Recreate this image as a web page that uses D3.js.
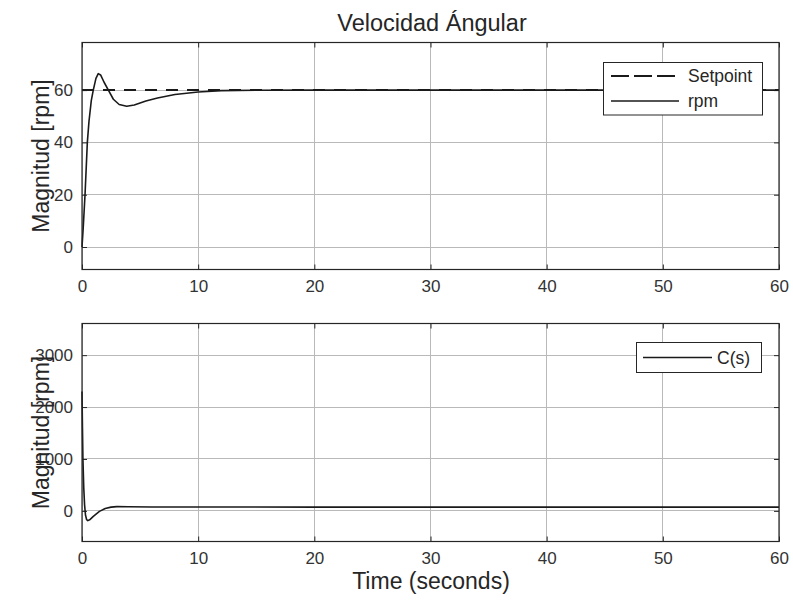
<!DOCTYPE html>
<html>
<head>
<meta charset="utf-8">
<script src="https://cdn.jsdelivr.net/npm/d3@7"></script>
<style>
  html, body { margin: 0; padding: 0; background: #fff; }
  svg { display: block; font-family: "Liberation Sans", Arial, sans-serif; }
</style>
</head>
<body>
<svg id="chart" width="793" height="601"></svg>
<script>
// Speed response (rpm) over time, seconds
const rpmTime  = [0, 0.1, 0.26, 0.46, 0.6, 0.8, 0.97, 1.2, 1.4, 1.6, 1.9, 2.27, 2.7, 3.2, 3.85, 4.5, 5.5, 6.5, 8, 10, 12, 15, 20, 30, 40, 50, 60];
const rpmValue = [0, 7, 20, 40, 48, 56, 60, 64.5, 66.3, 65.8, 63, 60, 56.5, 54.5, 53.8, 54.3, 55.8, 57, 58.3, 59.3, 59.8, 59.95, 60, 60, 60, 60, 60];

// Reference speed
const setpointTime  = [0, 60];
const setpointValue = [60, 60];

// Controller output C(s)
const ctrlTime  = [0, 0.04, 0.08, 0.15, 0.22, 0.3, 0.4, 0.5, 0.7, 1.0, 1.5, 2.0, 2.5, 3.0, 4, 6, 10, 20, 30, 40, 50, 60];
const ctrlValue = [2300, 1600, 1000, 450, 120, -80, -170, -188, -165, -100, -10, 45, 72, 82, 80, 76, 74, 73, 73, 73, 73, 73];

// Axis ticks
const xTicks = [0, 10, 20, 30, 40, 50, 60];
const topYTicks = [0, 20, 40, 60];
const bottomYTicks = [0, 1000, 2000, 3000];

const svg = d3.select("#chart");
const ink = "#262626";
const tickInk = "#333333";
const gridCol = "#b9b9b9";
const lineCol = "#1a1a1a";
const tickFont = "17px";
const legendFont = "17.5px";
const labelFont = "23px";

const left = 82, right = 779;
const x = d3.scaleLinear().domain([0, 60]).range([left, right]);

function panel(top, bottom, yDomain, yTicks) {
  const y = d3.scaleLinear().domain(yDomain).range([bottom, top]);
  const g = svg.append("g");
  // grid
  g.append("g").selectAll("line").data(xTicks).join("line")
    .attr("x1", d => x(d)).attr("x2", d => x(d))
    .attr("y1", top).attr("y2", bottom)
    .attr("stroke", gridCol).attr("stroke-width", 1).attr("shape-rendering", "crispEdges");
  g.append("g").selectAll("line").data(yTicks).join("line")
    .attr("x1", left).attr("x2", right)
    .attr("y1", d => y(d)).attr("y2", d => y(d))
    .attr("stroke", gridCol).attr("stroke-width", 1).attr("shape-rendering", "crispEdges");
  // axes (ticks inward, on all four sides)
  const tk = 5;
  const axB = d3.axisBottom(x).tickValues(xTicks).tickSizeInner(-tk).tickSizeOuter(0).tickPadding(10).tickFormat(d3.format("d"));
  const axT = d3.axisTop(x).tickValues(xTicks).tickSizeInner(-tk).tickSizeOuter(0).tickFormat("");
  const axL = d3.axisLeft(y).tickValues(yTicks).tickSizeInner(-tk).tickSizeOuter(0).tickPadding(9).tickFormat(d3.format("d"));
  const axR = d3.axisRight(y).tickValues(yTicks).tickSizeInner(-tk).tickSizeOuter(0).tickFormat("");
  const styleAxis = sel => {
    sel.select(".domain").remove();
    sel.selectAll(".tick line").attr("stroke", ink);
    sel.selectAll(".tick text").attr("fill", tickInk).style("font-size", tickFont);
  };
  g.append("g").attr("transform", `translate(0,${bottom})`).call(axB).call(styleAxis);
  g.append("g").attr("transform", `translate(0,${top})`).call(axT).call(styleAxis);
  g.append("g").attr("transform", `translate(${left},0)`).call(axL).call(styleAxis);
  g.append("g").attr("transform", `translate(${right},0)`).call(axR).call(styleAxis);
  return { g, y };
}

function box(top, bottom) {
  svg.append("rect").attr("x", left).attr("y", top)
    .attr("width", right - left).attr("height", bottom - top)
    .attr("fill", "none").attr("stroke", ink).attr("stroke-width", 1.2);
}

// ---- Top panel: angular speed ----
const topTop = 42.5, topBottom = 269.5;
const P1 = panel(topTop, topBottom, [-8.6, 78.2], topYTicks);
const line1 = d3.line().x(d => x(d[0])).y(d => P1.y(d[1]));

P1.g.append("path")
  .datum(d3.zip(setpointTime, setpointValue))
  .attr("d", line1).attr("fill", "none")
  .attr("stroke", lineCol).attr("stroke-width", 2).attr("stroke-dasharray", "12,9");
P1.g.append("path")
  .datum(d3.zip(rpmTime, rpmValue))
  .attr("d", line1).attr("fill", "none")
  .attr("stroke", lineCol).attr("stroke-width", 1.6).attr("stroke-linejoin", "round");
box(topTop, topBottom);

// legend top
const lg1 = svg.append("g");
lg1.append("rect").attr("x", 603.5).attr("y", 62.5).attr("width", 159).attr("height", 52.5)
  .attr("fill", "#fff").attr("stroke", ink).attr("stroke-width", 1);
lg1.append("line").attr("x1", 611).attr("x2", 679).attr("y1", 76).attr("y2", 76)
  .attr("stroke", lineCol).attr("stroke-width", 2).attr("stroke-dasharray", "18,5");
lg1.append("text").attr("x", 688).attr("y", 76).attr("dy", "0.35em")
  .attr("fill", ink).style("font-size", legendFont).text("Setpoint");
lg1.append("line").attr("x1", 611).attr("x2", 679).attr("y1", 101).attr("y2", 101)
  .attr("stroke", lineCol).attr("stroke-width", 1.6);
lg1.append("text").attr("x", 688).attr("y", 101).attr("dy", "0.35em")
  .attr("fill", ink).style("font-size", legendFont).text("rpm");

// ---- Bottom panel: controller output ----
const botTop = 323.5, botBottom = 541.5;
const P2 = panel(botTop, botBottom, [-590, 3610], bottomYTicks);
const line2 = d3.line().x(d => x(d[0])).y(d => P2.y(d[1]));
P2.g.append("path")
  .datum(d3.zip(ctrlTime, ctrlValue))
  .attr("d", line2).attr("fill", "none")
  .attr("stroke", lineCol).attr("stroke-width", 1.6).attr("stroke-linejoin", "round");
box(botTop, botBottom);

const lg2 = svg.append("g");
lg2.append("rect").attr("x", 636.5).attr("y", 342.5).attr("width", 125).attr("height", 30)
  .attr("fill", "#fff").attr("stroke", ink).attr("stroke-width", 1);
lg2.append("line").attr("x1", 643).attr("x2", 712).attr("y1", 357.5).attr("y2", 357.5)
  .attr("stroke", lineCol).attr("stroke-width", 1.6);
lg2.append("text").attr("x", 717).attr("y", 357.5).attr("dy", "0.35em")
  .attr("fill", ink).style("font-size", legendFont).text("C(s)");

// ---- Titles and axis labels ----
svg.append("text").attr("x", 432).attr("y", 31).attr("text-anchor", "middle")
  .attr("fill", ink).style("font-size", "23.5px").text("Velocidad Ángular");
svg.append("text").attr("transform", `translate(49,${(topTop + topBottom) / 2}) rotate(-90)`)
  .attr("text-anchor", "middle").attr("fill", ink).style("font-size", labelFont).text("Magnitud [rpm]");
svg.append("text").attr("transform", `translate(49,${(botTop + botBottom) / 2}) rotate(-90)`)
  .attr("text-anchor", "middle").attr("fill", ink).style("font-size", labelFont).text("Magnitud [rpm]");
svg.append("text").attr("x", 431).attr("y", 589).attr("text-anchor", "middle")
  .attr("fill", ink).style("font-size", labelFont).text("Time (seconds)");
</script>
</body>
</html>
